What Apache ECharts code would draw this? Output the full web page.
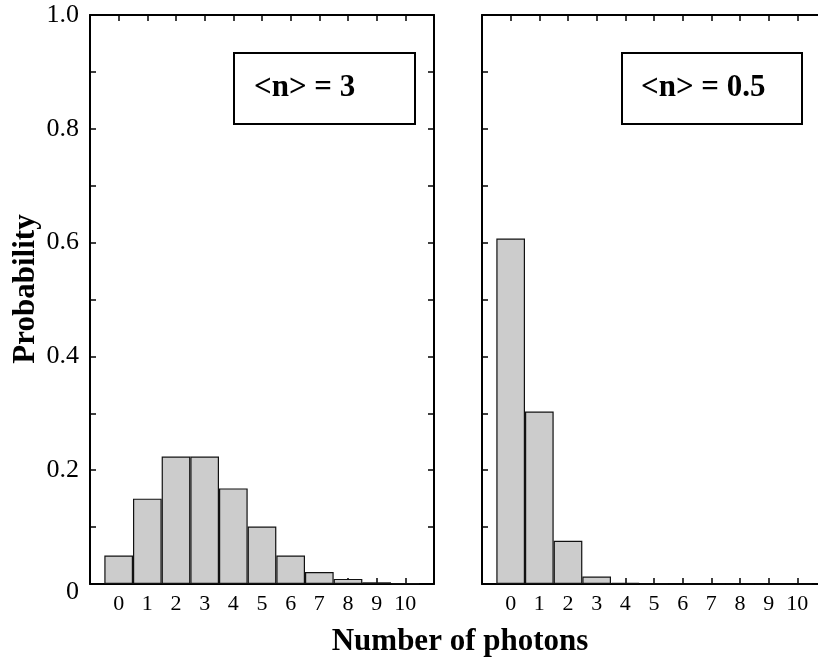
<!DOCTYPE html>
<html>
<head>
<meta charset="utf-8">
<script src="https://cdn.jsdelivr.net/npm/echarts@6/dist/echarts.min.js"></script>
<style>
html,body{margin:0;padding:0;background:#fff;}
#c{width:818px;height:659px;}
</style>
</head>
<body>
<div id="c"></div>
<script>
var photons = [0, 1, 2, 3, 4, 5, 6, 7, 8, 9, 10];
var probMean3 = [0.050, 0.150, 0.224, 0.224, 0.168, 0.101, 0.050, 0.021, 0.009, 0.003, 0.001];
var probMean05 = [0.607, 0.303, 0.076, 0.013, 0.002, 0.0002, 0, 0, 0, 0, 0];
var yTicks = [0, 0.2, 0.4, 0.6, 0.8, 1.0];
var panelLabels = ['<n> = 3', '<n> = 0.5'];
var xTitle = 'Number of photons';
var yTitle = 'Probability';

var FONT = 'Liberation Serif';
var chart = echarts.init(document.getElementById('c'), null, {renderer: 'canvas'});

function pairs(vals) { return photons.map(function (p, i) { return [p, vals[i]]; }); }

var grids = [
  {left: 90, top: 15, width: 344, height: 569, outerBoundsMode: 'none', containLabel: false},
  {left: 482, top: 15, width: 344, height: 569, outerBoundsMode: 'none', containLabel: false}
];

var axisLine = {show: true, onZero: false, lineStyle: {color: '#000', width: 2}};
var xAxes = [], yAxes = [];
grids.forEach(function (g, gi) {
  xAxes.push({
    type: 'value', gridIndex: gi, position: 'bottom', min: -1, max: 11, interval: 1,
    axisLine: axisLine, splitLine: {show: false},
    axisTick: {show: true, inside: true, length: 6, lineStyle: {color: '#000', width: 1.5}},
    axisLabel: {show: true, margin: 9, color: '#000', fontFamily: FONT, fontSize: 22,
      formatter: function (v) { return (v >= 0 && v <= 10) ? String(v) : ''; }}
  });
  xAxes.push({
    type: 'value', gridIndex: gi, position: 'top', min: -1, max: 11, interval: 1,
    axisLine: axisLine, splitLine: {show: false},
    axisTick: {show: true, inside: true, length: 6, lineStyle: {color: '#000', width: 1.5}},
    axisLabel: {show: false}
  });
  yAxes.push({
    type: 'value', gridIndex: gi, position: 'left', min: 0, max: 1, interval: 0.2,
    axisLine: axisLine, splitLine: {show: false},
    axisTick: {show: true, inside: true, length: 6, lineStyle: {color: '#000', width: 1.5}},
    minorTick: {show: true, splitNumber: 2, length: 6, lineStyle: {color: '#000', width: 1.5}},
    axisLabel: {show: gi === 0, margin: 11, color: '#000', fontFamily: FONT, fontSize: 26,
      formatter: function (v) {
        var t = yTicks.filter(function (k) { return Math.abs(k - v) < 1e-9; });
        if (!t.length) return '';
        return v === 0 ? '{z|0}' : v.toFixed(1);
      },
      rich: {z: {fontFamily: FONT, fontSize: 26, color: '#000', padding: [16, 0, 0, 0]}}}
  });
  yAxes.push({
    type: 'value', gridIndex: gi, position: 'right', min: 0, max: 1, interval: 0.2,
    axisLine: axisLine, splitLine: {show: false},
    axisTick: {show: true, inside: true, length: 6, lineStyle: {color: '#000', width: 1.5}},
    minorTick: {show: true, splitNumber: 2, length: 6, lineStyle: {color: '#000', width: 1.5}},
    axisLabel: {show: false}
  });
});

var barStyle = {color: '#cccccc', borderColor: '#111', borderWidth: 1.2};

var option = {
  backgroundColor: '#fff',
  animation: false,
  grid: grids,
  xAxis: xAxes,
  yAxis: yAxes,
  series: [
    {type: 'bar', xAxisIndex: 0, yAxisIndex: 0, data: pairs(probMean3),
      barWidth: '100%', barCategoryGap: '0%', itemStyle: barStyle, z: 1},
    {type: 'bar', xAxisIndex: 2, yAxisIndex: 2, data: pairs(probMean05),
      barWidth: '100%', barCategoryGap: '0%', itemStyle: barStyle, z: 1}
  ],
  graphic: [
    {type: 'rect', shape: {x: 234, y: 53, width: 181, height: 71},
      style: {fill: '#fff', stroke: '#000', lineWidth: 2}, z: 10},
    {type: 'text', x: 254, y: 88, z: 11,
      style: {text: panelLabels[0], fill: '#000', font: 'bold 31px "Liberation Serif"', textVerticalAlign: 'middle'}},
    {type: 'rect', shape: {x: 622, y: 53, width: 180, height: 71},
      style: {fill: '#fff', stroke: '#000', lineWidth: 2}, z: 10},
    {type: 'text', x: 641, y: 88, z: 11,
      style: {text: panelLabels[1], fill: '#000', font: 'bold 31px "Liberation Serif"', textVerticalAlign: 'middle'}},
    {type: 'text', x: 460, y: 642, z: 11,
      style: {text: xTitle, fill: '#000', font: 'bold 31px "Liberation Serif"', textAlign: 'center', textVerticalAlign: 'middle'}},
    {type: 'text', x: 26, y: 289, rotation: Math.PI / 2, z: 11,
      style: {text: yTitle, fill: '#000', font: 'bold 31px "Liberation Serif"', textAlign: 'center', textVerticalAlign: 'middle'}}
  ]
};
chart.setOption(option);
</script>
</body>
</html>
